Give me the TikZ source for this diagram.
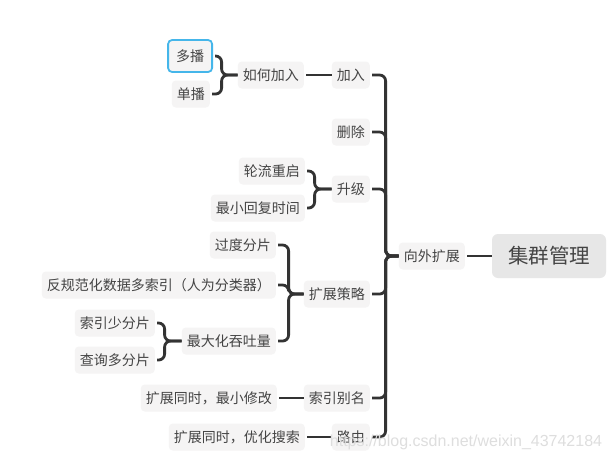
\documentclass[tikz,border=0pt]{standalone}
\usepackage{fontspec}
\setmainfont{Noto Sans CJK SC}
\newfontfamily\wmfont{Liberation Sans}

\definecolor{linegray}{HTML}{333333}
\definecolor{textgray}{HTML}{444444}
\definecolor{nodebg}{HTML}{F5F4F4}
\definecolor{rootbg}{HTML}{E7E7E7}
\definecolor{selblue}{HTML}{45B6EA}

\tikzset{
  topic/.style={fill=nodebg, text=textgray, rounded corners=4pt, inner xsep=5pt,
    minimum height=27pt, font=\fontsize{14}{16}\selectfont},
  rootbox/.style={fill=rootbg, text=textgray, rounded corners=6pt, minimum width=114pt,
    minimum height=44pt, font=\fontsize{20.5}{24}\selectfont},
  link/.style={draw=linegray, line width=2.8pt, rounded corners=6pt, shorten >=2pt},
}

\begin{document}
\begin{tikzpicture}[x=1pt,y=-1pt]
  \useasboundingbox[fill=white] (0,0) rectangle (609,461);

  % Root
  \node[rootbox] (root) at (549,256) {集群管理};
  \node[topic, anchor=east] (out) at (465,256) {向外扩展};

  % First level
  \node[topic, anchor=east] (join) at (370,75) {加入};
  \node[topic, anchor=east] (del) at (370,132) {删除};
  \node[topic, anchor=east] (upgrade) at (370,189) {升级};
  \node[topic, anchor=east] (strategy) at (370,294) {扩展策略};
  \node[topic, anchor=east] (alias) at (370,398) {索引别名};
  \node[topic, anchor=east] (route) at (370,437) {路由};

  % Join
  \node[topic, anchor=east] (howjoin) at (304,75) {如何加入};
  \node[topic, anchor=east, draw=selblue, line width=1.8pt, minimum height=32pt, inner xsep=8pt] (multicast) at (213,56) {多播};
  \node[topic, anchor=east] (unicast) at (210,94) {单播};

  % Upgrade
  \node[topic, anchor=east] (rolling) at (305,171) {轮流重启};
  \node[topic, anchor=east] (minrecover) at (305,208) {最小回复时间};

  % Strategy
  \node[topic, anchor=east] (overshard) at (276,245) {过度分片};
  \node[topic, anchor=east] (denorm) at (276,285) {反规范化数据多索引（人为分类器）};
  \node[topic, anchor=east] (throughput) at (276,341) {最大化吞吐量};
  \node[topic, anchor=east] (idxfew) at (155,323) {索引少分片};
  \node[topic, anchor=east] (qrymany) at (155,360) {查询多分片};

  % Alias and route
  \node[topic, anchor=east] (aliasnote) at (277,398) {扩展同时，最小修改};
  \node[topic, anchor=east] (routenote) at (305,437) {扩展同时，优化搜索};

  % Connectors
  \draw[link] (root.west) -- (out.east);
  \foreach \c in {join,del,upgrade,strategy,alias,route}
    \draw[link] (out.west) -- ++(-13,0) |- (\c.east);
  \draw[link] (join.west) -- (howjoin.east);
  \foreach \c in {multicast,unicast}
    \draw[link] (howjoin.west) -- ++(-16,0) |- (\c.east);
  \foreach \c in {rolling,minrecover}
    \draw[link] (upgrade.west) -- ++(-17,0) |- (\c.east);
  \foreach \c in {overshard,denorm,throughput}
    \draw[link] (strategy.west) -- ++(-15,0) |- (\c.east);
  \foreach \c in {idxfew,qrymany}
    \draw[link] (throughput.west) -- ++(-17,0) |- (\c.east);
  \draw[link] (alias.west) -- (aliasnote.east);
  \draw[link] (route.west) -- (routenote.east);

  % Watermark
  \node[text=black!13, font=\wmfont\fontsize{16}{18}\selectfont] (mark) at (466,442) {https://blog.csdn.net/weixin\_43742184};
\end{tikzpicture}
\end{document}
